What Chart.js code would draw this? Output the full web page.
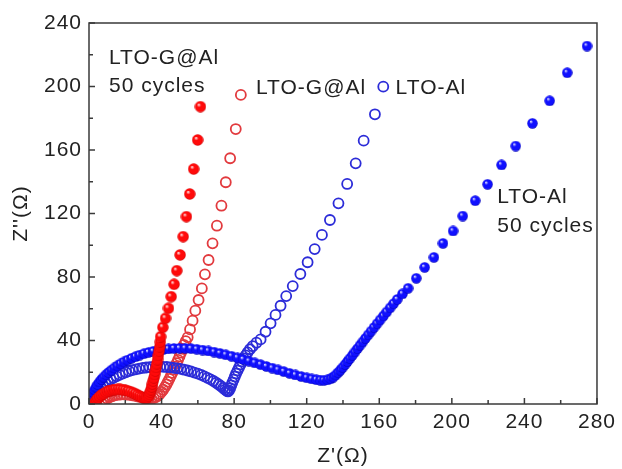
<!DOCTYPE html>
<html>
<head>
<meta charset="utf-8">
<script src="https://cdn.jsdelivr.net/npm/chart.js@4"></script>
<style>
  html, body { margin: 0; padding: 0; background: #fff; }
  #wrap { width: 622px; height: 469px; }
</style>
</head>
<body>
<div id="wrap"><canvas id="eis" width="622" height="469"></canvas></div>
<script>
// Nyquist readings, Z' and Z'' in ohm
const gAl50X = [3, 3.6, 4.3, 5.1, 6, 7, 8.1, 9.3, 10.5, 11.8, 13.1, 14.4, 15.8, 17.2, 18.6, 20, 21.4, 22.8, 24.1, 25.4,
  26.6, 27.7, 28.8, 29.8, 30.7, 31.5, 32.2, 32.8, 33.3, 33.8, 34.2, 34.6, 35, 35.4, 35.8, 36.2, 36.6, 37, 37.4, 37.8,
  38.2, 38.6, 39, 39.3, 39.5, 40.7, 42.2, 43.8, 45.3, 46.9, 48.4, 50.2, 51.9, 53.7, 55.5, 57.7, 59.9, 61.4];
const gAl50Y = [0.5, 1.6, 2.7, 3.8, 4.8, 5.8, 6.6, 7.4, 8, 8.5, 8.9, 9.1, 9.2, 9.2, 9, 8.7, 8.3, 7.8, 7.2, 6.5,
  5.8, 5.1, 4.5, 4, 3.7, 3.6, 4, 4.9, 6.1, 7.5, 9.1, 10.8, 12.6, 14.5, 16.5, 18.6, 20.8, 23.1, 25.5, 28,
  30.6, 33.3, 36.1, 39.1, 42.4, 48.3, 54, 60.3, 67.6, 75.4, 84, 93.9, 105.4, 118, 132.3, 148, 166.3, 187.3];

const gAlX = [7, 7.8, 8.8, 10, 11.3, 12.7, 14.2, 15.8, 17.4, 19, 20.6, 22.2, 23.8, 25.4, 27, 28.6, 30.1, 31.6, 33, 34.4,
  35.7, 36.9, 38, 39, 40, 40.9, 41.8, 42.7, 43.5, 44.3, 45.1, 45.9, 46.7, 47.5, 48.3, 49.1, 49.9, 50.7, 51.5, 52.3,
  53.3, 54.4, 55.7, 57.1, 58.6, 60.4, 62.2, 63.9, 65.9, 68.1, 70.5, 73, 75.4, 77.8, 80.9, 83.7];
const gAlY = [0.5, 1.5, 2.5, 3.4, 4.2, 4.9, 5.4, 5.8, 6, 6.1, 6, 5.8, 5.5, 5.1, 4.7, 4.3, 3.9, 3.6, 3.4, 3.4,
  3.7, 4.3, 5.2, 6.3, 7.6, 9, 10.6, 12.3, 14, 15.8, 17.7, 19.6, 21.6, 23.6, 25.7, 27.8, 30, 32.3, 34.7, 37.2,
  39.6, 42, 47, 52.5, 58.8, 65.5, 72.8, 81.7, 90.7, 101.2, 112.3, 124.9, 139.7, 154.8, 173.2, 194.7];

const alX = [1.5, 1.8, 2.2, 2.8, 3.5, 4.4, 5.4, 6.5, 7.7, 9, 10.4, 11.9, 13.5, 15.1, 16.8, 18.5, 20.3, 22.1, 23.9, 25.8,
  27.7, 29.6, 31.5, 33.4, 35.3, 37.2, 39.1, 41, 42.9, 44.8, 46.7, 48.6, 50.5, 52.4, 54.3, 56.2, 58.1, 60, 61.8, 63.6,
  65.3, 67, 68.6, 70.1, 71.5, 72.8, 74, 75, 75.9, 76.6, 77.2, 77.8, 78.4, 79, 79.7, 80.4, 81.1, 81.9, 82.7, 83.5,
  84.4, 85.3, 86.3, 87.4, 88.7, 90.2, 92.3, 94.6, 97.3, 100.1, 102.8, 105.6, 108.7, 112.3, 116.5, 120.5, 124.4, 128.4,
  132.8, 137.5, 142.3, 147, 151.4, 157.6, 162.2];
const alY = [0.5, 2, 3.5, 5, 6.5, 8, 9.4, 10.7, 12, 13.2, 14.4, 15.5, 16.5, 17.5, 18.4, 19.2, 20, 20.7, 21.3, 21.8,
  22.3, 22.7, 23, 23.2, 23.4, 23.5, 23.5, 23.4, 23.3, 23.1, 22.8, 22.5, 22.1, 21.6, 21.1, 20.5, 19.8, 19.1, 18.3, 17.4,
  16.5, 15.5, 14.5, 13.4, 12.3, 11.2, 10.1, 9.1, 8.3, 7.9, 8.6, 10, 11.7, 13.5, 15.4, 17.3, 19.2, 21.1, 23, 24.9,
  26.8, 28.7, 30.6, 32.5, 34.5, 36.4, 38.6, 40.7, 45.5, 50.8, 56.1, 61.9, 68, 74.3, 81.9, 89.3, 97.6, 106.5,
  115.9, 126.4, 138.6, 151.6, 165.9, 182.5, 199.9];

const al50X = [0.6, 0.9, 1.3, 1.8, 2.4, 3.1, 3.9, 4.8, 5.8, 6.9, 8.1, 9.4, 10.8, 12.3, 13.9, 15.6, 17.4, 19.3, 21.3, 23.4,
  25.6, 27.9, 30.3, 32.8, 35.4, 38.1, 40.9, 43.8, 46.8, 49.9, 53, 56.2, 59.4, 62.6, 65.8, 69, 72.2, 75.4, 78.6, 81.8,
  85, 88.2, 91.4, 94.6, 97.8, 101, 104.2, 107.4, 110.6, 113.8, 117, 120, 122.8, 125.3, 127.5, 129.5, 131.5, 133.2, 134.7, 136,
  137.3, 138.6, 139.9, 141.2, 142.5, 143.8, 145.2, 146.6, 148, 149.4, 150.9, 152.4, 153.9, 155.5, 157.1, 158.8, 160.5, 162.3, 164.1, 166,
  167.9, 169.9, 172.8, 175.9, 180.4, 185, 190.1, 195.1, 200.7, 206, 212.9, 219.7, 227.4, 235.2, 244.4, 253.9, 263.6, 274.5];
const al50Y = [0.5, 2.2, 3.9, 5.6, 7.3, 9, 10.7, 12.3, 13.9, 15.5, 17, 18.5, 19.9, 21.3, 22.7, 24, 25.3, 26.5, 27.7, 28.8,
  29.8, 30.8, 31.7, 32.5, 33.2, 33.8, 34.3, 34.7, 35, 35.1, 35.1, 34.9, 34.5, 34, 33.4, 32.7, 31.9, 31, 30.1, 29.1,
  28.1, 27, 25.9, 24.8, 23.7, 22.6, 21.5, 20.4, 19.3, 18.3, 17.3, 16.5, 15.8, 15.3, 15, 14.9, 15.2, 15.9, 17, 18.3,
  19.8, 21.4, 23.1, 24.9, 26.8, 28.7, 30.7, 32.8, 34.9, 37, 39.2, 41.4, 43.6, 45.9, 48.2, 50.6, 53, 55.5, 58, 60.6,
  63.2, 65.9, 69.4, 72.9, 79.2, 86.1, 92.4, 101.2, 109, 118.4, 128.1, 138.4, 150.6, 162.5, 176.8, 191, 208.7, 225.5];

const xTicks = [0, 40, 80, 120, 160, 200, 240, 280];
const yTicks = [0, 40, 80, 120, 160, 200, 240];

// in-plot labels, anchored in data units
const notes = [
  { text: 'LTO-G@Al', x: 11, y: 218 },
  { text: '50 cycles', x: 11, y: 200 },
  { text: 'LTO-G@Al', x: 92, y: 199 },
  { text: 'LTO-Al', x: 169, y: 199 },
  { text: 'LTO-Al', x: 225, y: 130 },
  { text: '50 cycles', x: 225, y: 112 }
];

const FONT = 'Liberation Sans, Arial, Helvetica, sans-serif';
const INK = '#222';

const toPoints = (xs, ys) => xs.map((x, i) => ({ x, y: ys[i] }));

function sphere(d, light, mid, dark) {
  const c = document.createElement('canvas');
  c.width = d;
  c.height = d;
  const g = c.getContext('2d');
  const r = d / 2;
  const grad = g.createRadialGradient(r * 0.7, r * 0.65, 0.4, r, r, r);
  grad.addColorStop(0, light);
  grad.addColorStop(0.3, mid);
  grad.addColorStop(0.8, mid);
  grad.addColorStop(1, dark);
  g.fillStyle = grad;
  g.beginPath();
  g.arc(r, r, r - 0.3, 0, Math.PI * 2);
  g.fill();
  return c;
}

const redBall = sphere(12, '#ffd8d8', '#ff0a0a', '#c00000');
const blueBall = sphere(11, '#d8d8ff', '#1010ff', '#0000a8');

const frameTicks = {
  id: 'frameTicks',
  afterDraw(chart) {
    const { ctx, chartArea: a, scales: { x, y } } = chart;
    ctx.save();
    ctx.strokeStyle = '#3a3a3a';
    ctx.lineWidth = 1.5;
    ctx.strokeRect(a.left, a.top, a.right - a.left, a.bottom - a.top);
    ctx.beginPath();
    const xStep = xTicks[1] - xTicks[0];
    for (let v = xTicks[0]; v <= xTicks[xTicks.length - 1]; v += xStep / 2) {
      const px = x.getPixelForValue(v);
      const len = v % xStep === 0 ? 6 : 4;
      ctx.moveTo(px, a.bottom);
      ctx.lineTo(px, a.bottom - len);
    }
    const yStep = yTicks[1] - yTicks[0];
    for (let v = yTicks[0]; v <= yTicks[yTicks.length - 1]; v += yStep / 2) {
      const py = y.getPixelForValue(v);
      const len = v % yStep === 0 ? 6 : 4;
      ctx.moveTo(a.left, py);
      ctx.lineTo(a.left + len, py);
    }
    ctx.stroke();
    ctx.restore();
  }
};

const labels = {
  id: 'labels',
  afterDatasetsDraw(chart) {
    const { ctx, scales: { x, y } } = chart;
    ctx.save();
    ctx.font = '21px ' + FONT;
    ctx.fillStyle = INK;
    ctx.textAlign = 'left';
    ctx.textBaseline = 'middle';
    notes.forEach(n => ctx.fillText(n.text, x.getPixelForValue(n.x), y.getPixelForValue(n.y)));
    ctx.restore();
  }
};

const spacing = {
  id: 'spacing',
  beforeLayout(chart) { chart.ctx.letterSpacing = '1px'; },
  beforeDraw(chart) { chart.ctx.letterSpacing = '1px'; }
};

const tickFont = { family: FONT, size: 21 };

new Chart(document.getElementById('eis'), {
  type: 'scatter',
  data: {
    datasets: [
      {
        label: 'LTO-G@Al 50 cycles',
        data: toPoints(gAl50X, gAl50Y),
        pointStyle: redBall,
        pointRadius: 6
      },
      {
        label: 'LTO-Al 50 cycles',
        data: toPoints(al50X, al50Y),
        pointStyle: blueBall,
        pointRadius: 5.5
      },
      {
        label: 'LTO-Al',
        data: toPoints(alX, alY),
        pointStyle: 'circle',
        pointRadius: 5,
        borderWidth: 1.8,
        borderColor: '#2c2cd8',
        backgroundColor: 'rgba(0,0,0,0)'
      },
      {
        label: 'LTO-G@Al',
        data: toPoints(gAlX, gAlY),
        pointStyle: 'circle',
        pointRadius: 5,
        borderWidth: 1.8,
        borderColor: '#e23a3e',
        backgroundColor: 'rgba(0,0,0,0)'
      }
    ]
  },
  options: {
    responsive: false,
    animation: false,
    devicePixelRatio: 1,
    layout: { padding: { top: 23, right: 22, left: 0, bottom: 0 } },
    plugins: {
      legend: { display: false },
      tooltip: { enabled: false }
    },
    scales: {
      x: {
        type: 'linear',
        min: xTicks[0],
        max: xTicks[xTicks.length - 1],
        afterBuildTicks(s) { s.ticks = xTicks.map(v => ({ value: v })); },
        ticks: { color: INK, font: tickFont, padding: 6, maxRotation: 0 },
        grid: { display: false, drawTicks: false },
        border: { display: false },
        title: { display: true, text: "Z'(Ω)", color: INK, font: tickFont, padding: { top: 0, bottom: 0 } },
        afterFit(s) { s.height = 65; }
      },
      y: {
        type: 'linear',
        min: yTicks[0],
        max: yTicks[yTicks.length - 1],
        afterBuildTicks(s) { s.ticks = yTicks.map(v => ({ value: v })); },
        ticks: { color: INK, font: tickFont, padding: 7 },
        grid: { display: false, drawTicks: false },
        border: { display: false },
        title: { display: true, text: "Z''(Ω)", color: INK, font: tickFont, padding: { top: 9, bottom: 0 } },
        afterFit(s) { s.width = 89; }
      }
    }
  },
  plugins: [spacing, frameTicks, labels]
});
</script>
</body>
</html>
